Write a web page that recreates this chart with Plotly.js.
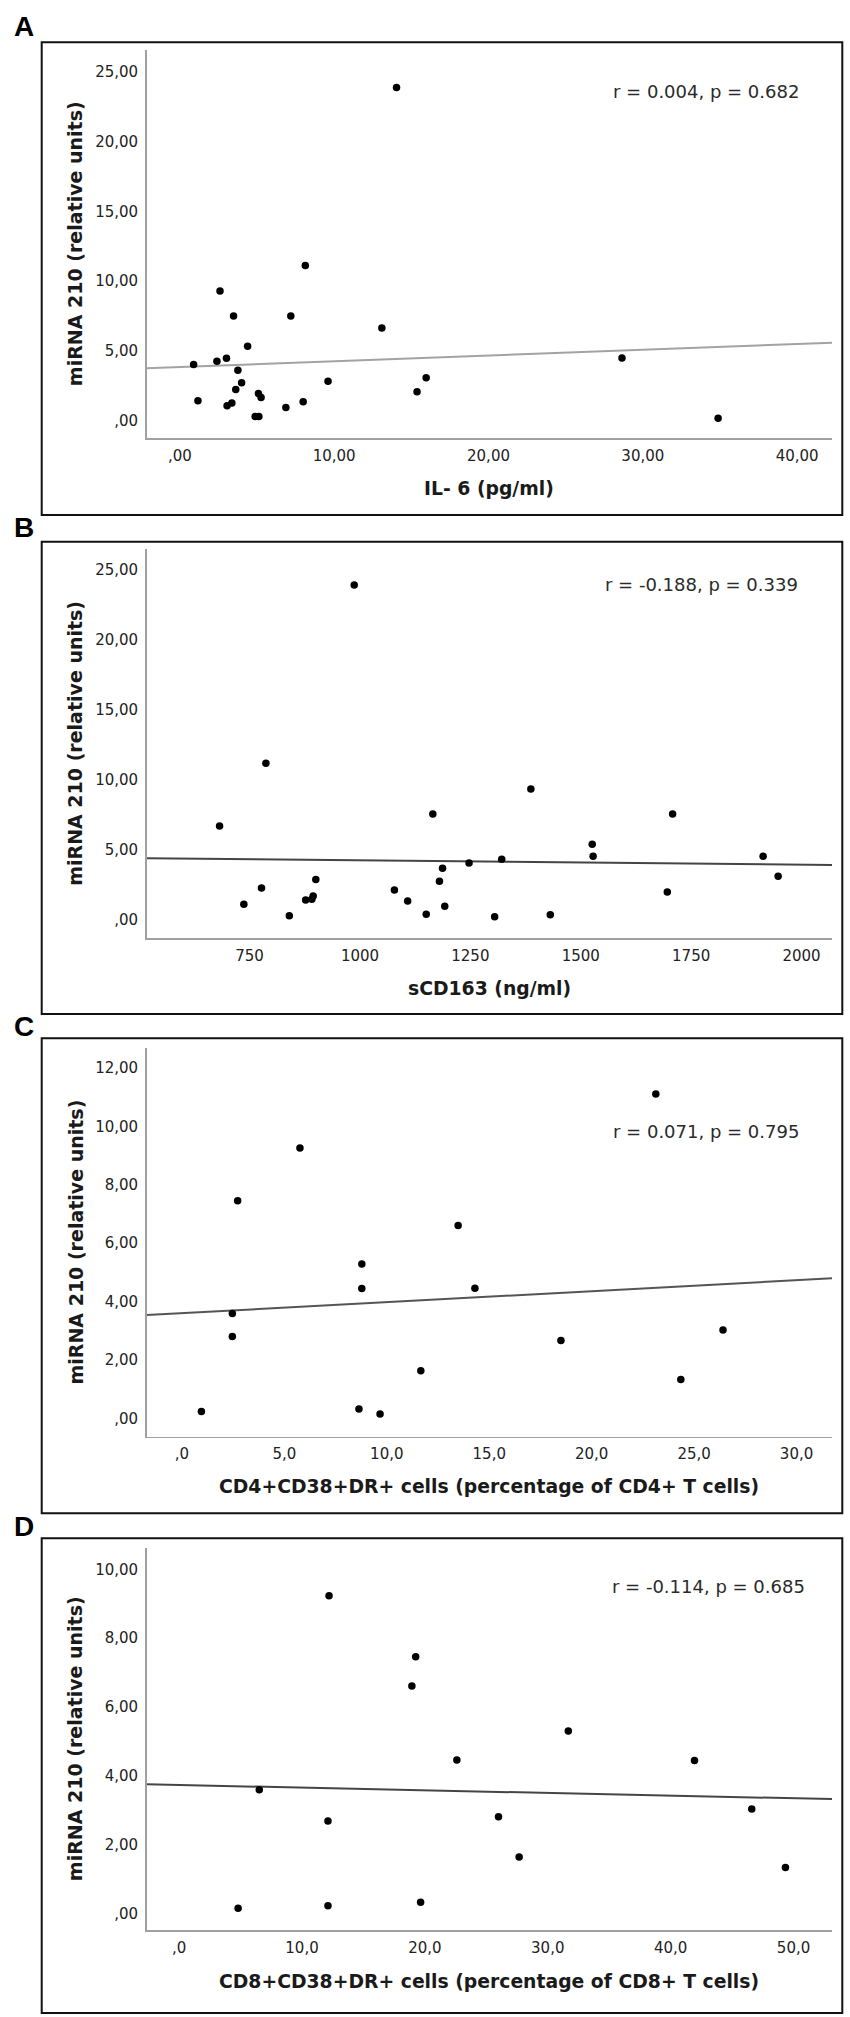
<!DOCTYPE html>
<html>
<head>
<meta charset="utf-8">
<script src="https://cdn.plot.ly/plotly-3.0.1.min.js"></script>
<style>html,body{margin:0;padding:0;background:#fff;}#chart{width:850px;height:2017px;}</style>
</head>
<body>
<div id="chart"></div>
<script>
// ---------- DATA ----------
// Panel A: IL-6 vs miRNA 210
const il6 = [14.04, 8.13, 2.6, 3.48, 7.19, 13.09, 4.39, 0.89, 2.4, 3.02, 28.65, 3.76, 4.0, 9.6, 15.96, 3.62, 15.37, 5.09, 5.26, 1.17, 3.06, 3.37, 7.99, 6.87, 4.88, 5.12, 34.88];
const mirnaA = [23.86, 11.12, 9.29, 7.5, 7.5, 6.64, 5.33, 4.02, 4.26, 4.48, 4.5, 3.62, 2.71, 2.83, 3.07, 2.24, 2.07, 1.95, 1.67, 1.43, 1.07, 1.26, 1.36, 0.95, 0.31, 0.31, 0.17];
const fitAx = [-2.15, 42.26];
const fitAy = [3.75, 5.59];
const statA = "r = 0.004, p = 0.682";
const xTitleA = "IL- 6 (pg/ml)";
const xTickValsA = [0, 10, 20, 30, 40];
const xTickTextA = [",00", "10,00", "20,00", "30,00", "40,00"];

// Panel B: sCD163 vs miRNA 210
const scd163 = [987, 787, 682, 1387, 1165, 1708, 1526, 1528, 1913, 1321, 1247, 1187, 1180, 900, 1947, 777, 1078, 1696, 894, 877, 891, 1108, 737, 1192, 840, 1150, 1431, 1305];
const mirnaB = [23.93, 11.16, 6.68, 9.33, 7.54, 7.54, 5.37, 4.51, 4.51, 4.29, 4.03, 3.65, 2.72, 2.84, 3.08, 2.24, 2.10, 1.96, 1.67, 1.38, 1.43, 1.31, 1.07, 0.93, 0.26, 0.36, 0.33, 0.19];
const fitBx = [517, 2069];
const fitBy = [4.37, 3.89];
const statB = "r = -0.188, p = 0.339";
const xTitleB = "sCD163 (ng/ml)";
const xTickValsB = [750, 1000, 1250, 1500, 1750, 2000];
const xTickTextB = ["750", "1000", "1250", "1500", "1750", "2000"];

// Panel C: CD4+CD38+DR+ vs miRNA 210
const cd4 = [23.13, 5.76, 2.72, 13.48, 8.78, 8.78, 14.30, 2.46, 2.46, 18.50, 26.41, 11.66, 24.35, 0.95, 8.64, 9.67];
const mirnaC = [11.11, 9.26, 7.46, 6.61, 5.29, 4.45, 4.46, 3.59, 2.80, 2.67, 3.03, 1.63, 1.33, 0.23, 0.32, 0.15];
const fitCx = [-1.72, 31.73];
const fitCy = [3.54, 4.80];
const statC = "r = 0.071, p = 0.795";
const xTitleC = "CD4+CD38+DR+ cells (percentage of CD4+ T cells)";
const xTickValsC = [0, 5, 10, 15, 20, 25, 30];
const xTickTextC = [",0", "5,0", "10,0", "15,0", "20,0", "25,0", "30,0"];

// Panel D: CD8+CD38+DR+ vs miRNA 210
const cd8 = [12.2, 19.25, 18.94, 31.67, 22.6, 41.94, 6.52, 12.11, 25.99, 46.6, 27.67, 49.34, 4.8, 12.11, 19.65];
const mirnaD = [9.23, 7.46, 6.61, 5.3, 4.46, 4.44, 3.59, 2.68, 2.81, 3.03, 1.64, 1.33, 0.15, 0.22, 0.32];
const fitDx = [-2.64, 53.13];
const fitDy = [3.75, 3.32];
const statD = "r = -0.114, p = 0.685";
const xTitleD = "CD8+CD38+DR+ cells (percentage of CD8+ T cells)";
const xTickValsD = [0, 10, 20, 30, 40, 50];
const xTickTextD = [",0", "10,0", "20,0", "30,0", "40,0", "50,0"];

// Y axis ticks
const yTickValsAB = [0, 5, 10, 15, 20, 25];
const yTickTextAB = [",00", "5,00", "10,00", "15,00", "20,00", "25,00"];
const yTickValsC = [0, 2, 4, 6, 8, 10, 12];
const yTickTextC = [",00", "2,00", "4,00", "6,00", "8,00", "10,00", "12,00"];
const yTickValsD = [0, 2, 4, 6, 8, 10];
const yTickTextD = [",00", "2,00", "4,00", "6,00", "8,00", "10,00"];

const yTitle = "miRNA 210 (relative units)";
const panelLetters = ["A", "B", "C", "D"];

// ---------- LAYOUT ----------
const W = 850, H = 2017;
const px = v => v / W;
const py = v => 1 - v / H;

const panels = [
  {x: il6, y: mirnaA, fx: fitAx, fy: fitAy, stat: statA, xt: xTitleA, xtv: xTickValsA, xtt: xTickTextA, ytv: yTickValsAB, ytt: yTickTextAB,
   xr: [-2.15, 42.26], yr: [-1.26, 26.55], top: 50, bottom: 438.3, boxTop: 42.3, boxBottom: 515, letterY: 26.5, statX: 801, statY: 91, lineColor: '#a3a3a3', xtOff: 50},
  {x: scd163, y: mirnaB, fx: fitBx, fy: fitBy, stat: statB, xt: xTitleB, xtv: xTickValsB, xtt: xTickTextB, ytv: yTickValsAB, ytt: yTickTextAB,
   xr: [517, 2069], yr: [-1.36, 26.48], top: 549.3, bottom: 938.3, boxTop: 541.7, boxBottom: 1014, letterY: 528, statX: 800, statY: 584, lineColor: '#454545', xtOff: 50},
  {x: cd4, y: mirnaC, fx: fitCx, fy: fitCy, stat: statC, xt: xTitleC, xtv: xTickValsC, xtt: xTickTextC, ytv: yTickValsC, ytt: yTickTextC,
   xr: [-1.72, 31.73], yr: [-0.63, 12.68], top: 1048.3, bottom: 1436.7, boxTop: 1038.3, boxBottom: 1513.3, letterY: 1026.5, statX: 801, statY: 1131.7, lineColor: '#555555', xtOff: 50},
  {x: cd8, y: mirnaD, fx: fitDx, fy: fitDy, stat: statD, xt: xTitleD, xtv: xTickValsD, xtt: xTickTextD, ytv: yTickValsD, ytt: yTickTextD,
   xr: [-2.64, 53.13], yr: [-0.485, 10.61], top: 1548.3, bottom: 1930, boxTop: 1538.3, boxBottom: 2013, letterY: 1526.5, statX: 807, statY: 1586, lineColor: '#454545', xtOff: 51.5}
];

const plotLeft = 146.7, plotRight = 832;
const boxLeft = 41.7, boxRight = 842.3;

const traces = [];
const layout = {
  width: W, height: H,
  margin: {l: 0, r: 0, t: 0, b: 0, pad: 0},
  paper_bgcolor: '#ffffff', plot_bgcolor: '#ffffff',
  showlegend: false,
  annotations: [], shapes: []
};

const tickFont = {family: 'DejaVu Sans', size: 15, color: '#222222'};

panels.forEach((p, i) => {
  const n = i === 0 ? '' : String(i + 1);
  const xa = 'x' + n, ya = 'y' + n;
  traces.push({
    type: 'scatter', mode: 'lines', x: p.fx, y: p.fy, xaxis: xa, yaxis: ya,
    line: {color: p.lineColor, width: 2}, hoverinfo: 'skip'
  });
  traces.push({
    type: 'scatter', mode: 'markers', x: p.x, y: p.y, xaxis: xa, yaxis: ya,
    marker: {color: '#000000', size: 7.5}, cliponaxis: false
  });
  layout['xaxis' + n] = {
    domain: [px(plotLeft), px(plotRight)], anchor: ya, range: p.xr,
    showgrid: false, zeroline: false, showline: true, linecolor: '#a0a0a0', linewidth: 1.6,
    ticks: '', tickmode: 'array', tickvals: p.xtv, ticktext: p.xtt, tickfont: tickFont,
    ticklabelstandoff: 3, fixedrange: true
  };
  layout['yaxis' + n] = {
    domain: [py(p.bottom), py(p.top)], anchor: xa, range: p.yr,
    showgrid: false, zeroline: false, showline: true, linecolor: '#a0a0a0', linewidth: 1.6,
    ticks: '', tickmode: 'array', tickvals: p.ytv, ticktext: p.ytt, tickfont: tickFont,
    ticklabelstandoff: 4, fixedrange: true
  };
  // frame box
  layout.shapes.push({
    type: 'rect', xref: 'paper', yref: 'paper',
    x0: px(boxLeft), x1: px(boxRight), y0: py(p.boxBottom), y1: py(p.boxTop),
    line: {color: '#111111', width: 2}, fillcolor: 'rgba(0,0,0,0)', layer: 'above'
  });
  // panel letter
  layout.annotations.push({
    xref: 'paper', yref: 'paper', x: px(24), y: py(p.letterY), xanchor: 'center', yanchor: 'middle',
    text: '<b>' + panelLetters[i] + '</b>', showarrow: false,
    font: {family: 'Liberation Sans', size: 28, color: '#000000'}
  });
  // statistics text
  layout.annotations.push({
    xref: 'paper', yref: 'paper', x: px(p.statX), y: py(p.statY), xanchor: 'right', yanchor: 'middle',
    text: p.stat, showarrow: false,
    font: {family: 'DejaVu Sans', size: 18, color: '#2a2a2a'}
  });
  // x title
  layout.annotations.push({
    xref: 'paper', yref: 'paper', x: px((plotLeft + plotRight) / 2), y: py(p.bottom + p.xtOff), xanchor: 'center', yanchor: 'middle',
    text: '<b>' + p.xt + '</b>', showarrow: false,
    font: {family: 'DejaVu Sans', size: 18.8, color: '#1a1a1a'}
  });
  // y title
  layout.annotations.push({
    xref: 'paper', yref: 'paper', x: px(75), y: py((p.top + p.bottom) / 2), xanchor: 'center', yanchor: 'middle',
    text: '<b>' + yTitle + '</b>', showarrow: false, textangle: -90,
    font: {family: 'DejaVu Sans', size: 19, color: '#1a1a1a'}
  });
});

Plotly.newPlot('chart', traces, layout, {staticPlot: true, displayModeBar: false});
</script>
</body>
</html>
